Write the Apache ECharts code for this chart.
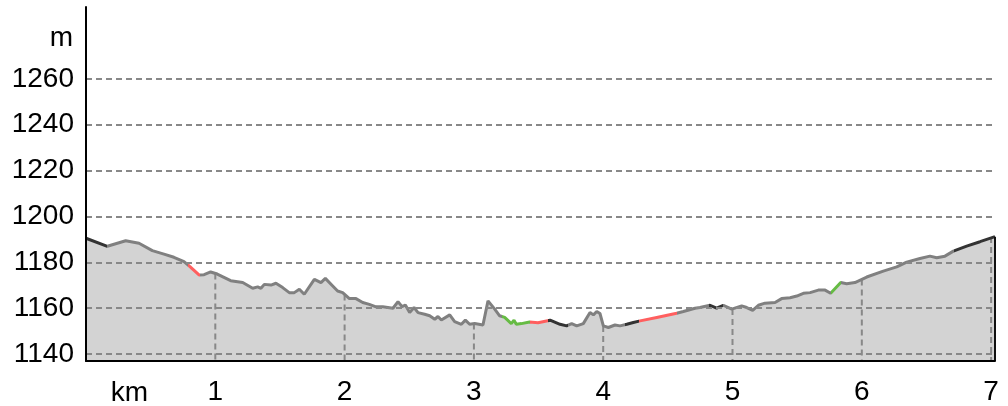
<!DOCTYPE html>
<html>
<head>
<meta charset="utf-8">
<script src="https://cdn.jsdelivr.net/npm/echarts@6/dist/echarts.min.js"></script>
<style>
    html, body { margin: 0; padding: 0; background: #fff; }
    #main { width: 1008px; height: 406px; }
</style>
</head>
<body>
<div id="main"></div>
<script>
// distance (km) and elevation (m) of the profile
var distKm = [0, 0.165, 0.307, 0.41, 0.513, 0.603, 0.68, 0.758, 0.804, 0.874, 0.913, 0.964, 1.015, 1.119,
    1.212, 1.289, 1.328, 1.353, 1.379, 1.431, 1.469, 1.521, 1.572, 1.611, 1.65, 1.688, 1.766, 1.817, 1.851,
    1.908, 1.946, 1.985, 2.037, 2.088, 2.14, 2.191, 2.243, 2.295, 2.374, 2.413, 2.444, 2.47, 2.503, 2.537,
    2.568, 2.619, 2.658, 2.697, 2.722, 2.748, 2.813, 2.851, 2.903, 2.934, 2.967, 3.006, 3.07, 3.109, 3.161,
    3.199, 3.238, 3.289, 3.31, 3.328, 3.367, 3.431, 3.496, 3.589, 3.666, 3.717, 3.756, 3.795, 3.846, 3.898,
    3.924, 3.95, 3.975, 4.001, 4.04, 4.091, 4.13, 4.182, 4.233, 4.285, 4.414, 4.568, 4.62, 4.71, 4.748,
    4.826, 4.877, 4.929, 4.994, 5.071, 5.11, 5.156, 5.2, 5.251, 5.329, 5.38, 5.445, 5.497, 5.548, 5.6,
    5.664, 5.716, 5.759, 5.837, 5.883, 5.947, 6.038, 6.166, 6.27, 6.347, 6.45, 6.527, 6.579, 6.643, 6.708,
    6.811, 6.914, 7.03];
var elevM = [1190.5, 1187.0, 1189.4, 1188.3, 1185.1, 1183.6, 1182.2, 1180.3, 1178.1, 1174.5, 1174.6, 1175.8, 1174.9, 1172.0,
    1171.2, 1168.7, 1169.3, 1168.7, 1170.4, 1170.1, 1170.9, 1169.0, 1166.8, 1166.8, 1168.3, 1166.1, 1172.6, 1171.2, 1173.0,
    1169.7, 1167.5, 1166.8, 1164.2, 1164.2, 1162.5, 1161.7, 1160.6, 1160.6, 1160.0, 1162.9, 1160.7, 1161.4, 1158.1, 1160.3,
    1158.1, 1157.4, 1156.7, 1155.2, 1156.4, 1154.9, 1157.1, 1154.2, 1153.0, 1154.8, 1153.0, 1153.3, 1152.7, 1163.2, 1159.6,
    1156.7, 1156.0, 1153.3, 1154.8, 1153.0, 1153.3, 1154.0, 1153.7, 1154.8, 1153.0, 1152.3, 1153.3, 1152.3, 1153.3, 1158.1,
    1157.1, 1158.6, 1157.7, 1152.3, 1151.6, 1152.7, 1152.3, 1153.0, 1153.8, 1154.5, 1156.0, 1157.8, 1158.6, 1160.0, 1160.3,
    1161.3, 1160.0, 1161.3, 1159.6, 1161.0, 1160.3, 1159.1, 1161.3, 1162.2, 1162.5, 1164.2, 1164.6, 1165.3, 1166.5, 1166.8,
    1167.9, 1167.9, 1166.5, 1171.2, 1170.7, 1171.2, 1173.6, 1176.2, 1178.0, 1180.1, 1181.7, 1182.7, 1182.0, 1182.7, 1184.9,
    1187.1, 1189.0, 1191.2];

// km grid lines and the profile height where each one stops
var kmTicks = [1, 2, 3, 4, 5, 6, 7];
var kmTop = [1175.1, 1166.0, 1153.3, 1152.3, 1159.7, 1172.5, 1191.0];

var yTicks = [1140, 1160, 1180, 1200, 1220, 1240, 1260];
var yMin = 1137;
var yMax = 1291.3;

// coloured stretches of the line
var segFrom = [0, 0.79, 3.22, 3.43, 3.57, 4.17, 4.28, 4.82, 5.76, 6.71];
var segTo = [0.165, 0.88, 3.43, 3.57, 3.73, 4.28, 4.57, 4.93, 5.84, 7.1];
var segColor = ['#333333', '#ff5f5f', '#66bb44', '#ff5f5f', '#333333', '#333333', '#ff5f5f', '#333333', '#66bb44', '#333333'];

var font = 'Liberation Sans';
var chart = echarts.init(document.getElementById('main'));

var profile = distKm.map(function (d, i) { return [d, elevM[i]]; });
var pieces = segFrom.map(function (f, i) {
    return { gte: f, lt: segTo[i], color: segColor[i] };
});

var option = {
    backgroundColor: '#fff',
    animation: false,
    grid: { left: 86, right: 13, top: 7, bottom: 44 },
    graphic: [
        { type: 'text', x: 73, y: 38, style: { text: 'm', font: '28px "' + font + '"', fill: '#000', align: 'right', verticalAlign: 'middle' } },
        { type: 'text', x: 129.5, y: 379, style: { text: 'km', font: '28px "' + font + '"', fill: '#000', align: 'center', verticalAlign: 'top' } }
    ],
    visualMap: {
        type: 'piecewise',
        show: false,
        dimension: 0,
        seriesIndex: 1,
        pieces: pieces,
        outOfRange: { color: '#808080' }
    },
    xAxis: {
        type: 'value',
        min: 0,
        max: 7.03,
        interval: 1,
        z: 6,
        axisLine: { lineStyle: { color: '#000', width: 2 } },
        axisTick: { show: false },
        splitLine: { show: false },
        axisLabel: {
            fontSize: 28, fontFamily: font, color: '#000', margin: 17,
            formatter: function (v) { return kmTicks.indexOf(v) >= 0 ? v : ''; }
        }
    },
    yAxis: {
        type: 'value',
        min: yMin,
        max: yMax,
        splitNumber: 8,
        z: 6,
        axisLine: { show: true, lineStyle: { color: '#000', width: 2 } },
        axisTick: { show: false },
        splitLine: { show: false },
        axisLabel: {
            fontSize: 28, fontFamily: font, color: '#000', margin: 12,
            formatter: function (v) { return yTicks.indexOf(v) >= 0 ? v : ''; }
        }
    },
    series: [
        {
            type: 'line',
            data: profile,
            symbol: 'none',
            z: 1,
            lineStyle: { width: 0 },
            areaStyle: { color: '#d3d3d3', opacity: 1, origin: 'start' },
            silent: true
        },
        {
            type: 'line',
            data: profile,
            symbol: 'none',
            z: 4,
            lineStyle: { width: 3 },
            silent: true
        },
        {
            // vertical km lines under the profile + horizontal grid lines
            type: 'custom',
            z: 3,
            silent: true,
            data: kmTicks.map(function (k, i) { return [k, kmTop[i]]; }),
            renderItem: function (params, api) {
                var top = api.coord([api.value(0), api.value(1)]);
                var bottom = api.coord([api.value(0), yMin]);
                return {
                    type: 'line',
                    shape: { x1: top[0], y1: top[1], x2: bottom[0], y2: bottom[1] },
                    style: { stroke: '#888', lineWidth: 2, lineDash: [6, 4] }
                };
            },
            markLine: {
                silent: true,
                symbol: 'none',
                label: { show: false },
                lineStyle: { type: [6, 4], color: '#888', width: 2 },
                data: yTicks.map(function (v) { return { yAxis: v }; })
            }
        },
        {
            // closing edge at the end of the profile
            type: 'custom',
            z: 5,
            silent: true,
            data: [profile[profile.length - 1]],
            renderItem: function (params, api) {
                var top = api.coord([api.value(0), api.value(1)]);
                var bottom = api.coord([api.value(0), yMin]);
                return {
                    type: 'line',
                    shape: { x1: top[0], y1: top[1], x2: bottom[0], y2: bottom[1] },
                    style: { stroke: '#111', lineWidth: 2 }
                };
            }
        }
    ]
};
chart.setOption(option);
</script>
</body>
</html>
